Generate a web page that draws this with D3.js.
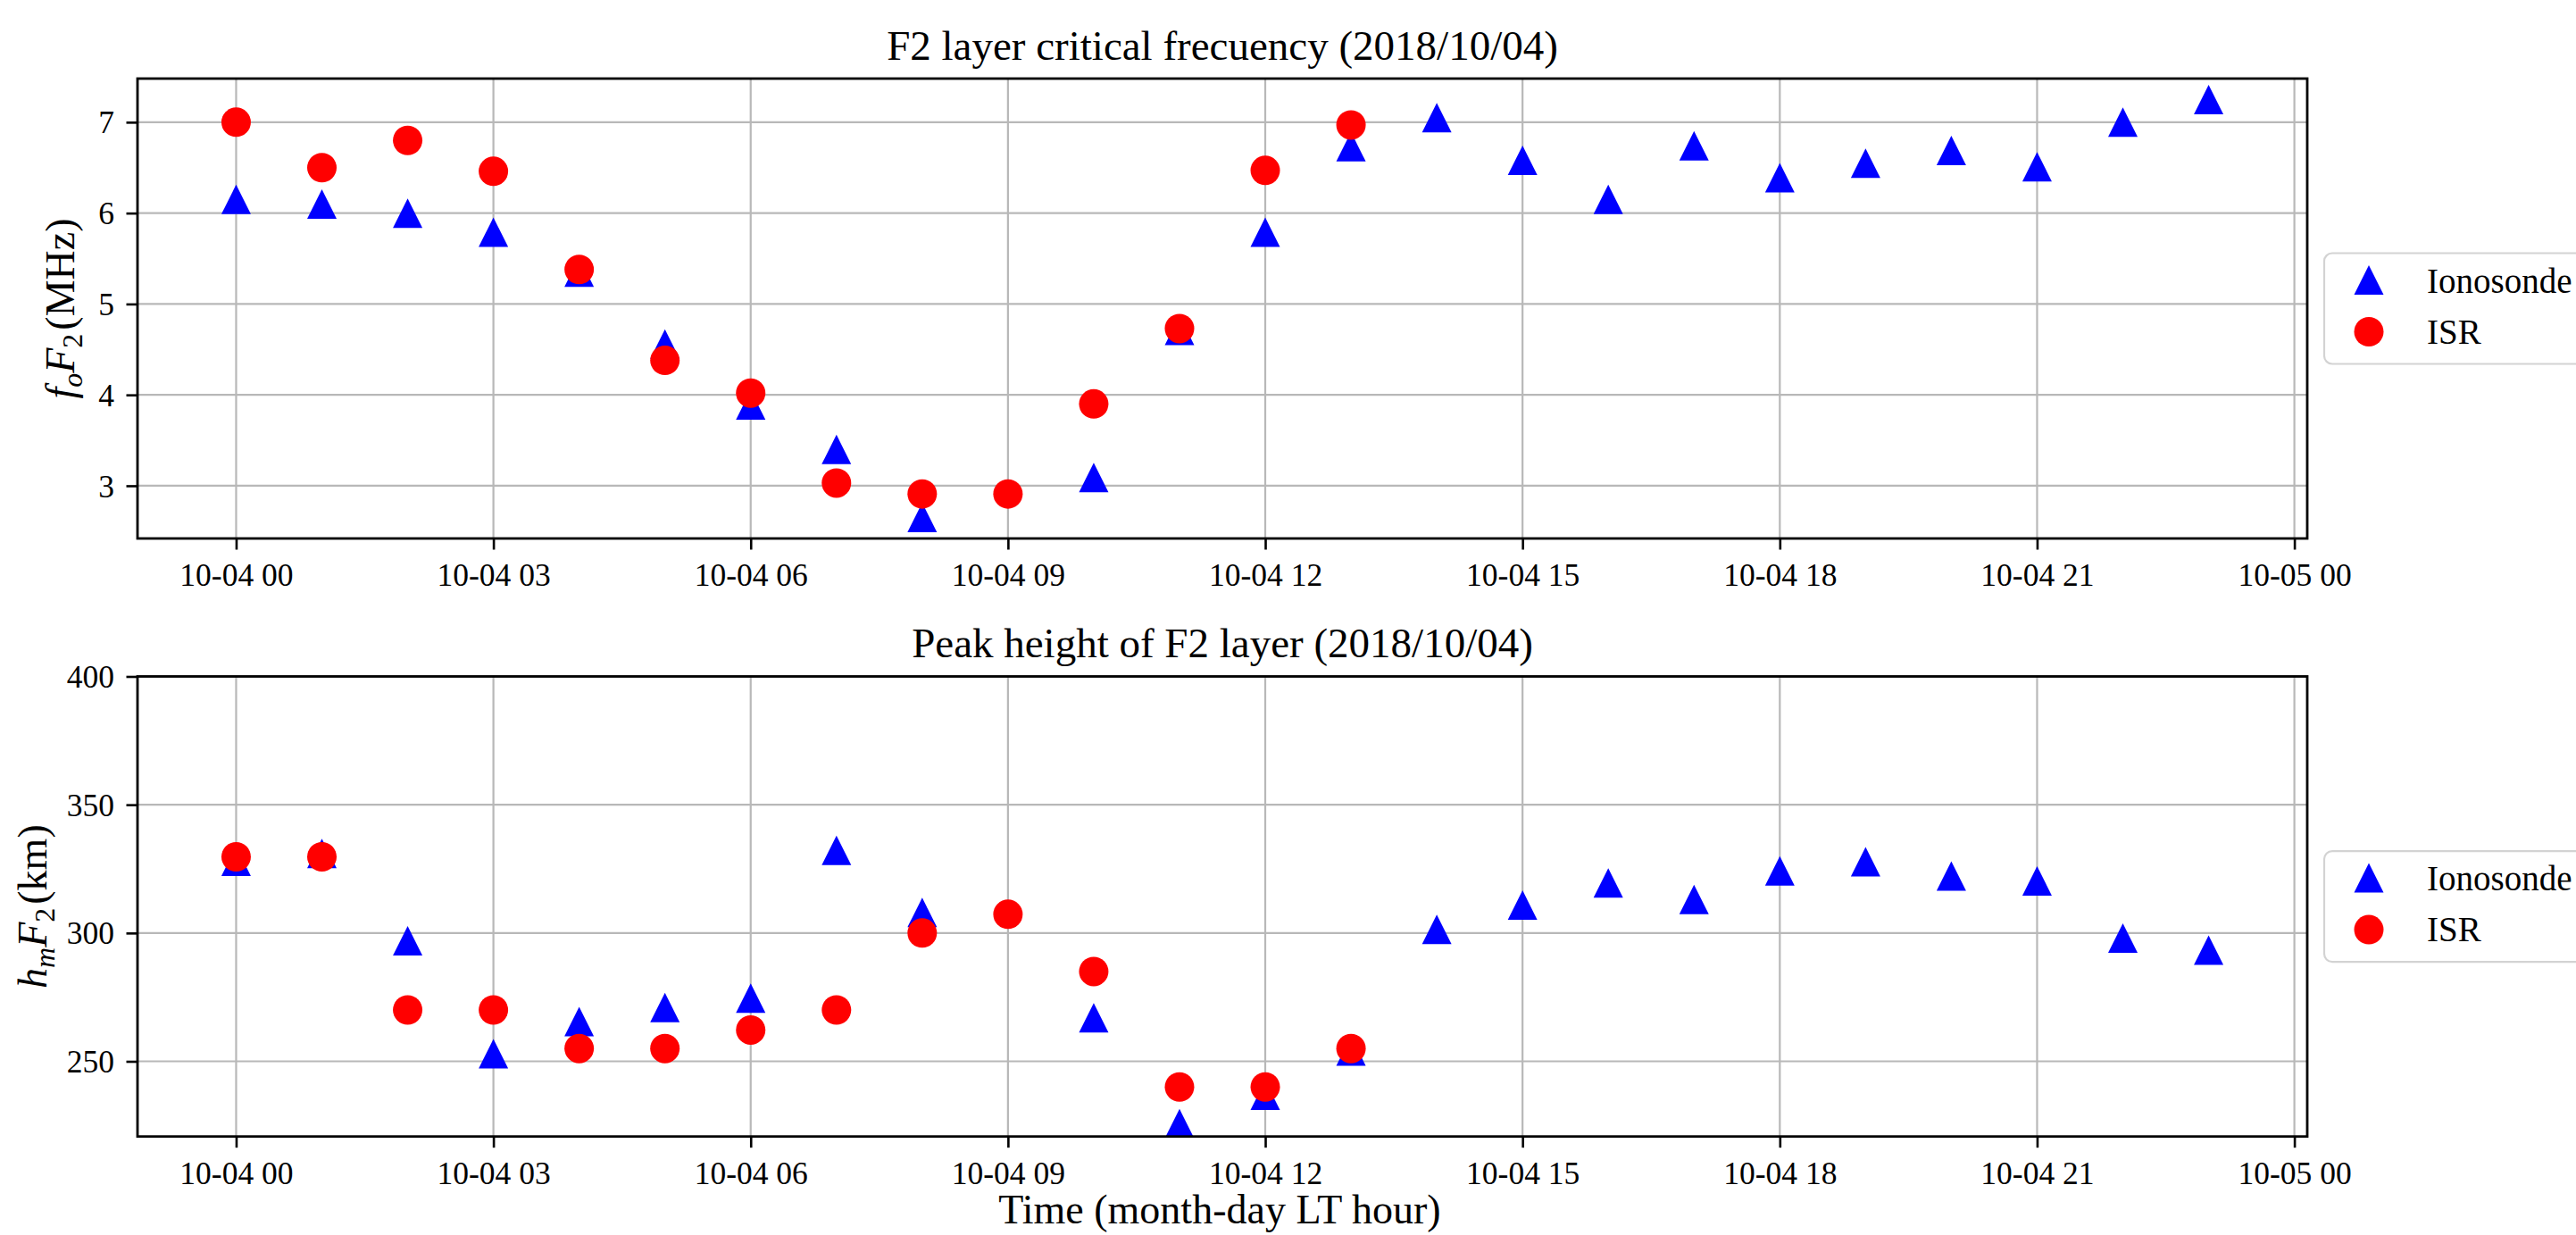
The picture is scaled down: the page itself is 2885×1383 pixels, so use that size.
<!DOCTYPE html>
<html>
<head>
<meta charset="utf-8">
<script src="https://cdn.jsdelivr.net/npm/d3@7"></script>
<style>
  html, body { margin: 0; padding: 0; background: #ffffff; overflow: hidden; }
  svg { display: block; }
</style>
</head>
<body>
<svg id="fig" width="2885" height="1383"></svg>
<script>
// ---- Data: hourly observations for 2018-10-04 (local time) ----
const ionoHours = [0, 1, 2, 3, 4, 5, 6, 7, 8, 10, 11, 12, 13, 14, 15, 16, 17, 18, 19, 20, 21, 22, 23];
const isrHours  = [0, 1, 2, 3, 4, 5, 6, 7, 8, 9, 10, 11, 12, 13];

// Critical frequency foF2 (MHz)
const ionoFoF2 = [6.15, 6.10, 6.00, 5.79, 5.35, 4.56, 3.89, 3.40, 2.65, 3.09, 4.71, 5.79, 6.73,
                  7.05, 6.58, 6.15, 6.74, 6.39, 6.55, 6.69, 6.51, 7.00, 7.25];
const isrFoF2  = [7.00, 6.50, 6.80, 6.46, 5.38, 4.38, 4.02, 3.03, 2.91, 2.91, 3.90, 4.73, 6.47, 6.97];

// Peak height hmF2 (km)
const ionoHmF2 = [328, 331, 297, 253, 265.5, 271, 274.6, 332.2, 308, 267, 225.7, 236.8, 254,
                  301.4, 310.9, 319.5, 313.1, 324.2, 327.8, 322.2, 320.3, 298, 293.3];
const isrHmF2  = [329.7, 329.7, 270, 270, 255, 255, 262.2, 270, 300, 307.3, 285, 240, 240, 255];

// Axis ticks
const foF2Ticks = [3, 4, 5, 6, 7];
const hmF2Ticks = [250, 300, 350, 400];
const hmF2Limits = [220.7, 400];
const seriesNames = ["Ionosonde", "ISR"];

// ---- Figure setup ----
const FONT = "'Liberation Serif', 'Times New Roman', serif";
const BLUE = "#0000ff", RED = "#ff0000";
const svg = d3.select("#fig");
svg.append("rect").attr("width", 2885).attr("height", 1383).attr("fill", "#fff");

const toDate = h => new Date(2018, 9, 4, h);
const left = 154, right = 2584;

// x: time axis with 5% margins on each side (matplotlib-style autoscale)
const tMin = toDate(d3.min(ionoHours.concat(isrHours)));
const tMax = toDate(d3.max(ionoHours.concat(isrHours)));
const span = tMax - tMin;
const x = d3.scaleTime()
  .domain([new Date(+tMin - 0.05 * span), new Date(+tMax + 0.05 * span)])
  .range([left, right]);
const xTicks = d3.timeHour.every(3).range(new Date(2018, 9, 4, 0), new Date(2018, 9, 5, 0, 1));
const fmt = d3.timeFormat("%m-%d %H");

// Triangle with width = height = size, centred on its bounding box
const triangle = {
  draw(ctx, size) {
    const h = Math.sqrt(size) / 2;
    ctx.moveTo(0, -h); ctx.lineTo(h, h); ctx.lineTo(-h, h); ctx.closePath();
  }
};
const MS = 33;
const triPath = d3.symbol().type(triangle).size(MS * MS)();

function padded(vals) {
  const [a, b] = d3.extent(vals);
  const p = 0.05 * (b - a);
  return [a - p, b + p];
}

const panels = [
  {
    id: "p1", top: 88, bottom: 603,
    title: "F2 layer critical frecuency (2018/10/04)",
    iono: ionoFoF2, isr: isrFoF2, ticks: foF2Ticks,
    domain: padded(ionoFoF2.concat(isrFoF2)),
    label: [["f", "i"], ["o", "is"], ["F", "i"], ["2", "s"], ["(MHz)", ""]],
    labelX: 83
  },
  {
    id: "p2", top: 757.5, bottom: 1272.7,
    title: "Peak height of F2 layer (2018/10/04)",
    iono: ionoHmF2, isr: isrHmF2, ticks: hmF2Ticks,
    domain: hmF2Limits,
    label: [["h", "i"], ["m", "is"], ["F", "i"], ["2", "s"], ["(km)", ""]],
    labelX: 52
  }
];

panels.forEach(p => {
  const y = d3.scaleLinear().domain(p.domain).range([p.bottom, p.top]);
  const g = svg.append("g");

  g.append("clipPath").attr("id", "clip-" + p.id)
    .append("rect").attr("x", left).attr("y", p.top)
    .attr("width", right - left).attr("height", p.bottom - p.top);

  // grid
  const grid = g.append("g").attr("stroke", "#b8b8b8").attr("stroke-width", 2.2);
  grid.selectAll("line.v").data(xTicks).join("line")
    .attr("x1", d => x(d)).attr("x2", d => x(d))
    .attr("y1", p.top).attr("y2", p.bottom);
  grid.selectAll("line.h").data(p.ticks).join("line")
    .attr("x1", left).attr("x2", right)
    .attr("y1", d => y(d)).attr("y2", d => y(d));

  // markers
  const marks = g.append("g").attr("clip-path", `url(#clip-${p.id})`);
  marks.selectAll("path.iono").data(ionoHours.map((h, i) => [h, p.iono[i]])).join("path")
    .attr("d", triPath).attr("fill", BLUE)
    .attr("transform", d => `translate(${x(toDate(d[0]))},${y(d[1])})`);
  marks.selectAll("circle.isr").data(isrHours.map((h, i) => [h, p.isr[i]])).join("circle")
    .attr("r", MS / 2).attr("fill", RED)
    .attr("cx", d => x(toDate(d[0]))).attr("cy", d => y(d[1]));

  // x axis
  const xa = g.append("g").attr("transform", `translate(0,${p.bottom})`)
    .call(d3.axisBottom(x).tickValues(xTicks).tickFormat(fmt).tickSize(12.5).tickPadding(12));
  xa.select(".domain").remove();
  xa.selectAll(".tick line").attr("stroke", "#000").attr("stroke-width", 2.6);
  xa.selectAll(".tick text").attr("y", 53).attr("dy", 0)
    .attr("fill", "#000").style("font-family", FONT).style("font-size", "35.5px");

  // y axis
  const ya = g.append("g").attr("transform", `translate(${left},0)`)
    .call(d3.axisLeft(y).tickValues(p.ticks).tickFormat(d3.format("d")).tickSize(12.5).tickPadding(13.5));
  ya.select(".domain").remove();
  ya.selectAll(".tick line").attr("stroke", "#000").attr("stroke-width", 2.6);
  ya.selectAll(".tick text").attr("fill", "#000").attr("dy", "0.34em")
    .style("font-family", FONT).style("font-size", "35.5px");

  // frame
  g.append("rect").attr("x", left).attr("y", p.top)
    .attr("width", right - left).attr("height", p.bottom - p.top)
    .attr("fill", "none").attr("stroke", "#000").attr("stroke-width", 2.8);

  // title
  g.append("text").attr("x", (left + right) / 2).attr("y", p.top - 21.5)
    .attr("text-anchor", "middle").style("font-family", FONT).style("font-size", "47px")
    .text(p.title);

  // y label with math-style subscripts
  const cy = (p.top + p.bottom) / 2;
  const yl = g.append("text")
    .attr("transform", `translate(${p.labelX},${cy}) rotate(-90)`)
    .attr("text-anchor", "middle").style("font-family", FONT).style("font-size", "46px");
  let shift = 0;
  p.label.forEach(([t, kind]) => {
    const ts = yl.append("tspan").text(t);
    if (kind.includes("i")) ts.style("font-style", "italic");
    const target = kind.includes("s") ? 9 : 0;
    if (kind.includes("s")) ts.style("font-size", "32px");
    if (target !== shift) { ts.attr("dy", target - shift); shift = target; }
    if (t.startsWith("(")) ts.attr("dx", 4);
  });

  // legend (anchored just outside the right spine)
  const lg = g.append("g");
  lg.append("rect").attr("x", 2603).attr("y", cy - 62).attr("width", 400).attr("height", 124)
    .attr("rx", 9).attr("fill", "#fff").attr("stroke", "#d3d3d3").attr("stroke-width", 2.2);
  const rows = [cy - 31, cy + 26];
  lg.append("path").attr("d", triPath).attr("fill", BLUE)
    .attr("transform", `translate(2653,${rows[0] - 1})`);
  lg.append("circle").attr("cx", 2653).attr("cy", rows[1]).attr("r", MS / 2).attr("fill", RED);
  seriesNames.forEach((n, i) => {
    lg.append("text").attr("x", 2718).attr("y", rows[i] + 13)
      .style("font-family", FONT).style("font-size", "39px").text(n);
  });
});

// shared x label
svg.append("text").attr("x", 1366).attr("y", 1370)
  .attr("text-anchor", "middle").style("font-family", FONT).style("font-size", "46px")
  .text("Time (month-day LT hour)");
</script>
</body>
</html>
